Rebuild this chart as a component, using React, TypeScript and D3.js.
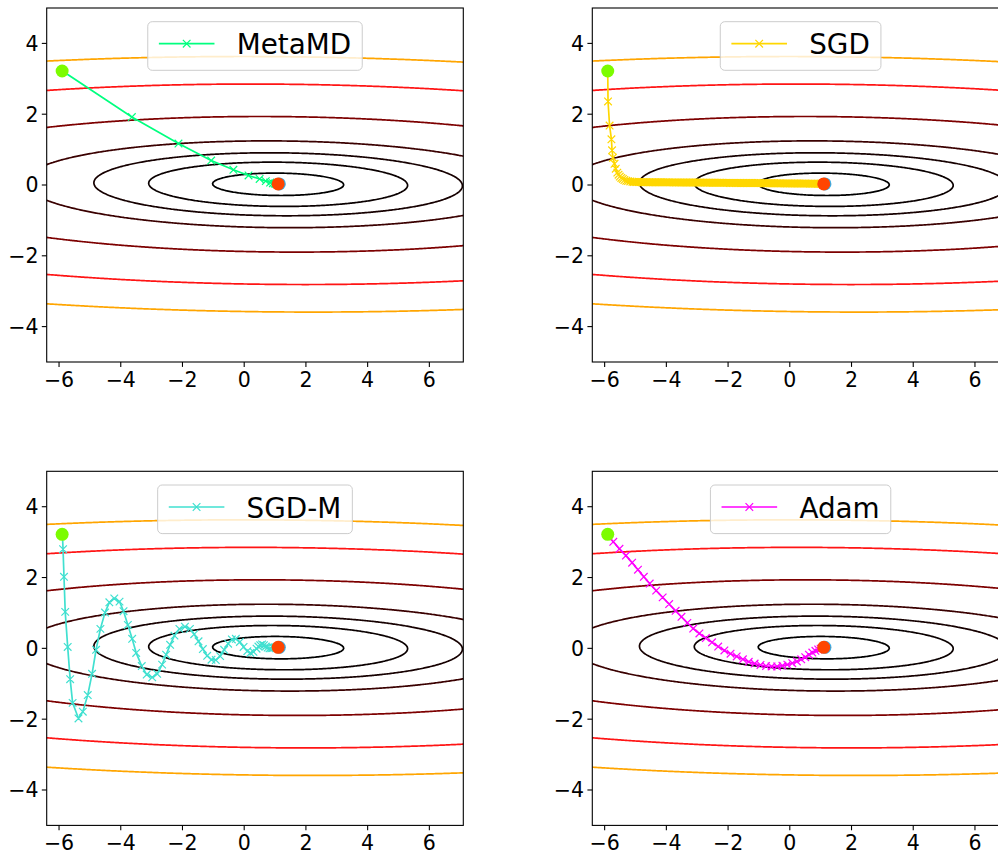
import React, { useMemo } from 'react';
import * as d3 from 'd3';

// ---------- data ----------
const X_DOMAIN: [number, number] = [-6.4, 7.1];
const Y_DOMAIN: [number, number] = [-5, 5];
const X_TICKS = [-6, -4, -2, 0, 2, 4, 6];
const Y_TICKS = [-4, -2, 0, 2, 4];

// objective f(x,y) = A (x-cx)^2 + B (y-cy)^2 + C (x-cx)(y-cy)
const OBJ_CENTER = [1.1, 0.02];
const OBJ_COEFFS = [0.0222, 1.0, 0.014];
const CONTOUR_LEVELS = [0.1, 0.39, 0.79, 1.5, 3.66, 8.0, 13.0];
const CONTOUR_COLORS = ['#000000', '#0a0000', '#160000', '#3a0000', '#7d0000', '#ff1414', '#ffa500'];

const START: [number, number] = [-5.9, 3.22];
const OPTIMUM: [number, number] = [1.1, 0.03];

const METAMD: [number, number][] = [
  [-5.89, 3.22], [-3.64, 1.92], [-2.13, 1.17], [-1.07, 0.69], [-0.35, 0.43], [0.14, 0.27],
  [0.5, 0.17], [0.7, 0.11], [0.84, 0.07], [0.93, 0.05], [0.99, 0.04], [1.03, 0.035], [1.06, 0.03], [1.08, 0.03],
];

const SGD: [number, number][] = [
  [-5.9, 3.22], [-5.89, 2.36], [-5.84, 1.68], [-5.78, 1.29], [-5.76, 0.98], [-5.73, 0.77], [-5.68, 0.6],
  [-5.64, 0.46], [-5.59, 0.35], [-5.55, 0.29], [-5.51, 0.24], [-5.46, 0.2], [-5.41, 0.17], [-5.36, 0.14],
  [-5.3, 0.12], [-5.24, 0.11], [-5.17, 0.1], [-5.1, 0.09], [-5.05, 0.087], [-5.0, 0.085], [-4.95, 0.083],
  [-4.9, 0.082], [-4.85, 0.081], [-4.8, 0.08], [-4.75, 0.08], [-4.7, 0.08], [-4.65, 0.08], [-4.6, 0.079],
  [-4.55, 0.079], [-4.5, 0.078], [-4.45, 0.078], [-4.4, 0.078], [-4.35, 0.077], [-4.3, 0.077], [-4.25, 0.077],
  [-4.2, 0.076], [-4.15, 0.076], [-4.1, 0.076], [-4.05, 0.075], [-4.0, 0.075], [-3.95, 0.075], [-3.9, 0.074],
  [-3.85, 0.074], [-3.8, 0.074], [-3.75, 0.073], [-3.7, 0.073], [-3.65, 0.073], [-3.6, 0.072], [-3.55, 0.072],
  [-3.5, 0.072], [-3.45, 0.071], [-3.4, 0.071], [-3.35, 0.07], [-3.3, 0.07], [-3.25, 0.07], [-3.2, 0.07],
  [-3.15, 0.07], [-3.1, 0.07], [-3.05, 0.069], [-3.0, 0.069], [-2.95, 0.068], [-2.9, 0.068], [-2.85, 0.067],
  [-2.8, 0.067], [-2.75, 0.066], [-2.7, 0.066], [-2.65, 0.065], [-2.6, 0.065], [-2.55, 0.064], [-2.5, 0.064],
  [-2.45, 0.063], [-2.4, 0.063], [-2.35, 0.062], [-2.3, 0.062], [-2.25, 0.061], [-2.2, 0.061], [-2.15, 0.06],
  [-2.1, 0.06], [-2.05, 0.06], [-2.0, 0.06], [-1.95, 0.059], [-1.9, 0.059], [-1.85, 0.058], [-1.8, 0.058],
  [-1.75, 0.057], [-1.7, 0.057], [-1.65, 0.057], [-1.6, 0.057], [-1.55, 0.056], [-1.5, 0.056], [-1.45, 0.056],
  [-1.4, 0.056], [-1.35, 0.055], [-1.3, 0.055], [-1.25, 0.055], [-1.2, 0.055], [-1.15, 0.054], [-1.1, 0.054],
  [-1.05, 0.054], [-1.0, 0.054], [-0.95, 0.053], [-0.9, 0.053], [-0.85, 0.052], [-0.8, 0.052], [-0.75, 0.051],
  [-0.7, 0.051], [-0.65, 0.05], [-0.6, 0.05], [-0.55, 0.049], [-0.5, 0.049], [-0.45, 0.048], [-0.4, 0.048],
  [-0.35, 0.047], [-0.3, 0.047], [-0.25, 0.046], [-0.2, 0.046], [-0.15, 0.045], [-0.1, 0.045], [-0.05, 0.045],
  [0.0, 0.045], [0.05, 0.044], [0.1, 0.044], [0.15, 0.043], [0.2, 0.043], [0.25, 0.042], [0.3, 0.042],
  [0.35, 0.041], [0.4, 0.041], [0.45, 0.04], [0.5, 0.04], [0.55, 0.039], [0.6, 0.039], [0.65, 0.038],
  [0.7, 0.038], [0.75, 0.037], [0.8, 0.037], [0.85, 0.036], [0.9, 0.036], [0.94, 0.035], [0.97, 0.035],
  [1.0, 0.035], [1.02, 0.034], [1.04, 0.034], [1.06, 0.033], [1.07, 0.033],
];

const SGD_M: [number, number][] = [
  [-5.89, 3.21], [-5.87, 2.8], [-5.84, 2.02], [-5.8, 1.03], [-5.72, 0.04], [-5.64, -0.87], [-5.56, -1.54],
  [-5.37, -1.98], [-5.23, -1.79], [-5.07, -1.32], [-4.93, -0.72], [-4.8, -0.04], [-4.66, 0.55], [-4.51, 1.01],
  [-4.37, 1.3], [-4.21, 1.41], [-4.04, 1.32], [-3.91, 1.05], [-3.77, 0.66], [-3.63, 0.27], [-3.5, -0.13],
  [-3.32, -0.5], [-3.16, -0.74], [-2.98, -0.82], [-2.82, -0.72], [-2.66, -0.46], [-2.53, -0.18], [-2.4, 0.1],
  [-2.26, 0.36], [-2.1, 0.55], [-1.92, 0.61], [-1.76, 0.55], [-1.62, 0.4], [-1.48, 0.2], [-1.34, -0.02],
  [-1.2, -0.21], [-1.06, -0.32], [-0.92, -0.33], [-0.78, -0.22], [-0.65, -0.04], [-0.52, 0.13], [-0.4, 0.25],
  [-0.27, 0.27], [-0.14, 0.18], [-0.02, 0.04], [0.1, -0.08], [0.2, -0.13], [0.3, -0.1], [0.4, -0.01],
  [0.46, 0.05], [0.52, 0.09], [0.58, 0.11], [0.64, 0.09], [0.7, 0.05], [0.76, 0.02], [0.82, 0.0],
  [0.88, 0.0], [0.93, 0.01], [0.97, 0.02], [1.01, 0.03], [1.05, 0.03], [1.08, 0.03],
];

const ADAM: [number, number][] = [
  [-5.93, 3.23], [-5.72, 3.01], [-5.52, 2.81], [-5.31, 2.62], [-5.11, 2.42], [-4.92, 2.22], [-4.73, 2.02],
  [-4.54, 1.83], [-4.33, 1.63], [-4.12, 1.44], [-3.91, 1.25], [-3.7, 1.06], [-3.51, 0.89], [-3.32, 0.72],
  [-3.13, 0.56], [-2.93, 0.42], [-2.72, 0.29], [-2.52, 0.17], [-2.32, 0.05], [-2.12, -0.06], [-1.92, -0.15],
  [-1.72, -0.23], [-1.52, -0.31], [-1.33, -0.38], [-1.14, -0.43], [-0.95, -0.47], [-0.77, -0.5], [-0.59, -0.51],
  [-0.41, -0.51], [-0.24, -0.49], [-0.08, -0.46], [0.08, -0.42], [0.23, -0.37], [0.37, -0.31], [0.5, -0.25],
  [0.62, -0.18], [0.73, -0.12], [0.83, -0.07], [0.92, -0.03], [1.0, -0.01], [1.06, 0.0], [1.1, 0.01],
];

const SERIES_NAMES = ['MetaMD', 'SGD', 'SGD-M', 'Adam'];
const SERIES_COLORS = ['#00ff7f', '#ffd700', '#40e0d0', '#ff00ff'];
const SERIES_DATA = [METAMD, SGD, SGD_M, ADAM];

// ---------- layout ----------
const W = 998;
const H = 854;
const COLS = [
  [46.7, 463.3],
  [592.3, 1008.9],
];
const ROWS = [
  [8, 362],
  [471.3, 825.4],
];
const TICK_FONT = 20.5;
const LEGEND_FONT = 27.8;
const FONT = '"DejaVu Sans", Verdana, sans-serif';
const MARK = 3.8;

function fmt(v: number) {
  return v < 0 ? '\u2212' + Math.abs(v) : String(v);
}

function measure(text: string, size: number) {
  try {
    const c = document.createElement('canvas').getContext('2d')!;
    c.font = `${size}px "DejaVu Sans"`;
    return c.measureText(text).width;
  } catch (e) {
    return text.length * size * 0.68;
  }
}

function xPath(x: number, y: number, s: number) {
  return `M${x - s},${y - s}L${x + s},${y + s}M${x - s},${y + s}L${x + s},${y - s}`;
}

function useContours() {
  return useMemo(() => {
    const step = 0.04;
    const gx0 = -7.6;
    const gy0 = -6.2;
    const n = Math.round((8.3 - gx0) / step) + 1;
    const m = Math.round((6.2 - gy0) / step) + 1;
    const [A, B, C] = OBJ_COEFFS;
    const [cx, cy] = OBJ_CENTER;
    const values = new Float64Array(n * m);
    for (let j = 0; j < m; j++) {
      const dy = gy0 + j * step - cy;
      for (let i = 0; i < n; i++) {
        const dx = gx0 + i * step - cx;
        values[j * n + i] = A * dx * dx + B * dy * dy + C * dx * dy;
      }
    }
    const cs = d3.contours().size([n, m]).thresholds(CONTOUR_LEVELS)(Array.from(values));
    return cs.map((c, k) => ({
      color: CONTOUR_COLORS[k],
      rings: c.coordinates.flatMap((poly) =>
        poly.map((ring) => ring.map(([u, v]) => [gx0 + (u - 0.5) * step, gy0 + (v - 0.5) * step] as [number, number]))
      ),
    }));
  }, []);
}

function Panel({ idx, contours }: { idx: number; contours: { color: string; rings: [number, number][][] }[] }) {
  const col = idx % 2;
  const row = Math.floor(idx / 2);
  const [x0, x1] = COLS[col];
  const [y0, y1] = ROWS[row];
  const xs = d3.scaleLinear().domain(X_DOMAIN).range([x0, x1]);
  const ys = d3.scaleLinear().domain(Y_DOMAIN).range([y1, y0]);
  const name = SERIES_NAMES[idx];
  const color = SERIES_COLORS[idx];
  const data = SERIES_DATA[idx];
  const clipId = `clip-${idx}`;
  const line = d3
    .line<[number, number]>()
    .x((d) => xs(d[0]))
    .y((d) => ys(d[1]));

  const tw = measure(name, LEGEND_FONT);
  const pad = 0.4 * LEGEND_FONT;
  const handle = 2 * LEGEND_FONT;
  const gap = 0.8 * LEGEND_FONT;
  const lw = pad + handle + gap + tw + pad;
  const lx = (x0 + x1) / 2 - lw / 2;
  const ly = y0 + 13.7;
  const lh = 48.6;

  return (
    <g>
      <defs>
        <clipPath id={clipId}>
          <rect x={x0} y={y0} width={x1 - x0} height={y1 - y0} />
        </clipPath>
      </defs>
      <rect x={x0} y={y0} width={x1 - x0} height={y1 - y0} fill="#fff" />
      <g clipPath={`url(#${clipId})`}>
        {contours.map((c, k) => (
          <path
            key={k}
            d={c.rings.map((r) => 'M' + r.map((p) => `${xs(p[0]).toFixed(2)},${ys(p[1]).toFixed(2)}`).join('L') + 'Z').join('')}
            fill="none"
            stroke={c.color}
            strokeWidth={1.7}
          />
        ))}
        <path d={line(data) || ''} fill="none" stroke={color} strokeWidth={1.7} />
        <path
          d={data.slice(1).map((p) => xPath(xs(p[0]), ys(p[1]), MARK)).join('')}
          fill="none"
          stroke={color}
          strokeWidth={1.2}
        />
        <circle cx={xs(START[0])} cy={ys(START[1])} r={6.5} fill="#7cfc00" />
        <circle cx={xs(OPTIMUM[0]) + 1.2} cy={ys(OPTIMUM[1])} r={6.5} fill="#3aaee6" />
        <circle cx={xs(OPTIMUM[0])} cy={ys(OPTIMUM[1])} r={6.5} fill="#ff4500" />
      </g>
      <rect x={x0} y={y0} width={x1 - x0} height={y1 - y0} fill="none" stroke="#000" strokeWidth={1.1} />
      {X_TICKS.map((t) => (
        <g key={'x' + t}>
          <line x1={xs(t)} x2={xs(t)} y1={y1} y2={y1 + 4.9} stroke="#000" strokeWidth={1.1} />
          <text x={xs(t)} y={y1 + 25} textAnchor="middle" fontSize={TICK_FONT} fontFamily={FONT} fill="#000">
            {fmt(t)}
          </text>
        </g>
      ))}
      {Y_TICKS.map((t) => (
        <g key={'y' + t}>
          <line x1={x0 - 4.9} x2={x0} y1={ys(t)} y2={ys(t)} stroke="#000" strokeWidth={1.1} />
          <text x={x0 - 8.2} y={ys(t) + 7.4} textAnchor="end" fontSize={TICK_FONT} fontFamily={FONT} fill="#000">
            {fmt(t)}
          </text>
        </g>
      ))}
      <rect x={lx} y={ly} width={lw} height={lh} rx={4.5} fill="#fff" fillOpacity={0.8} stroke="#cccccc" strokeWidth={1} />
      <line x1={lx + pad} x2={lx + pad + handle} y1={ly + 22} y2={ly + 22} stroke={color} strokeWidth={1.7} />
      <path d={xPath(lx + pad + handle / 2, ly + 22, MARK)} stroke={color} strokeWidth={1.2} fill="none" />
      <text x={lx + pad + handle + gap} y={ly + 32.5} fontSize={LEGEND_FONT} fontFamily={FONT} fill="#000">
        {name}
      </text>
    </g>
  );
}

export default function App() {
  const contours = useContours();
  return (
    <div style={{ position: 'absolute', left: 0, top: 0, width: W, height: H, overflow: 'hidden', background: '#fff' }}>
      <svg width={W} height={H} viewBox={`0 0 ${W} ${H}`} style={{ display: 'block' }}>
        <rect x={0} y={0} width={W} height={H} fill="#fff" />
        {[0, 1, 2, 3].map((i) => (
          <Panel key={i} idx={i} contours={contours} />
        ))}
      </svg>
    </div>
  );
}
